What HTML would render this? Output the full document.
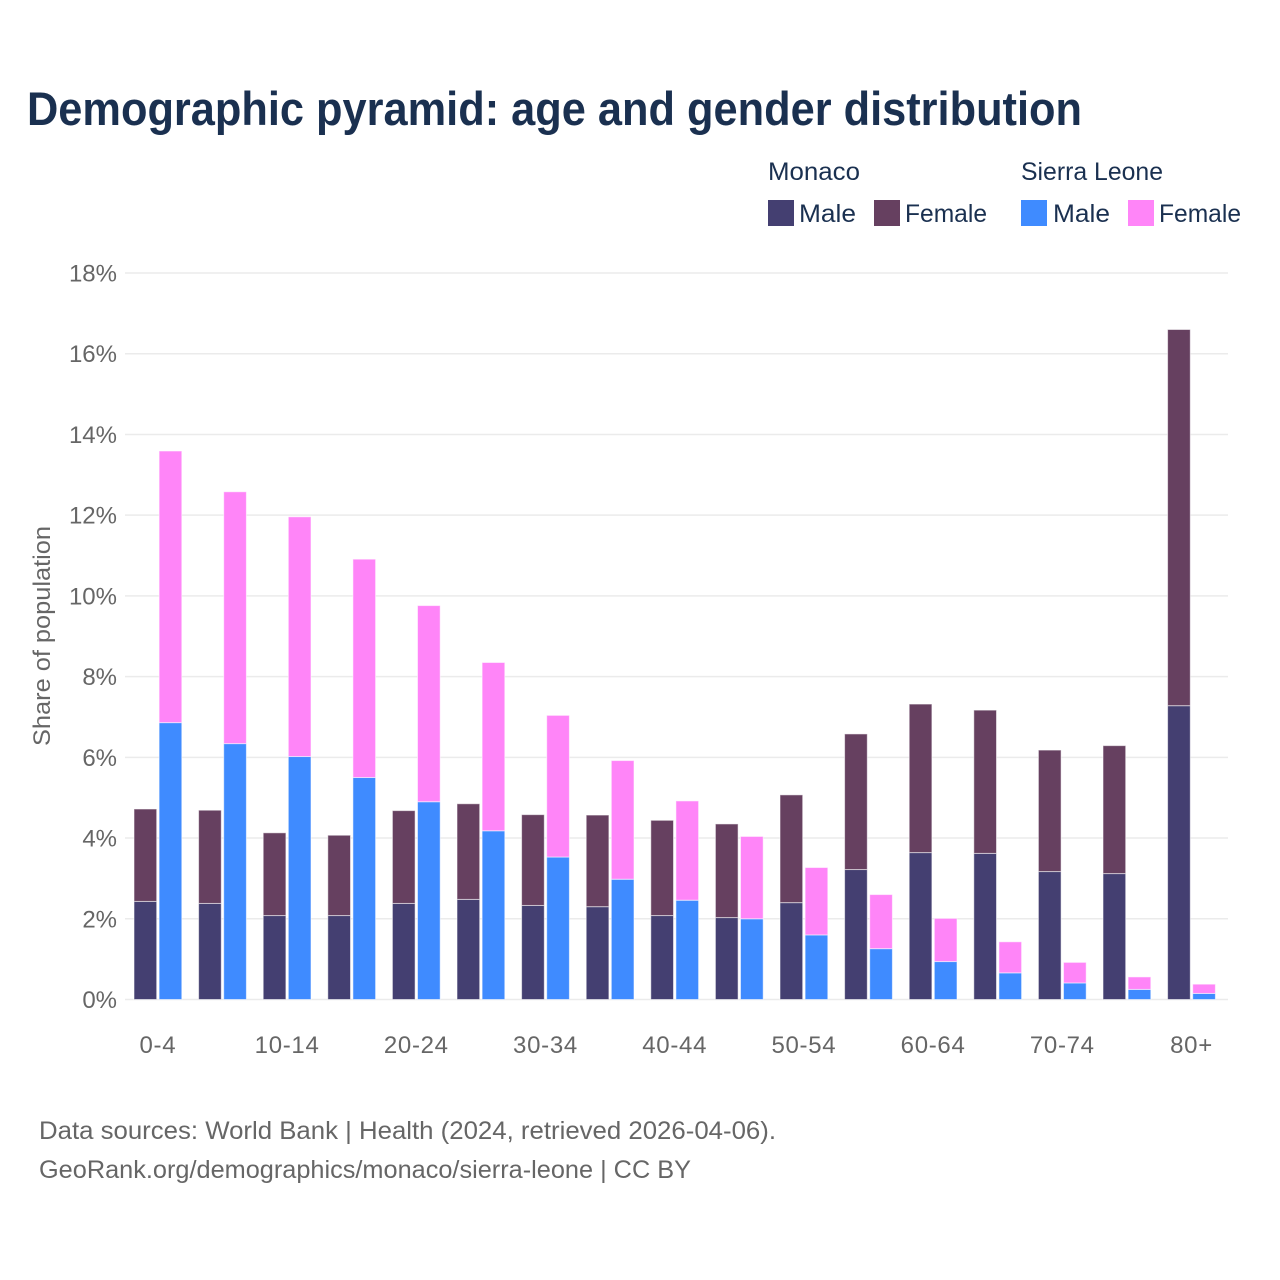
<!DOCTYPE html>
<html lang="en">
<head>
<meta charset="utf-8">
<title>Demographic pyramid: age and gender distribution</title>
<style>
html,body{margin:0;padding:0;background:#fff;width:1280px;height:1280px;overflow:hidden}
svg{display:block;font-family:"Liberation Sans",sans-serif}
</style>
</head>
<body>
<svg id="chart" width="1280" height="1280" viewBox="0 0 1280 1280" xmlns="http://www.w3.org/2000/svg">
  <text x="27" y="125" font-size="47" font-weight="700" fill="#1a3050" textLength="1055" lengthAdjust="spacingAndGlyphs">Demographic pyramid: age and gender distribution</text>

  <g font-size="25" fill="#1a3050">
    <text x="768" y="180" textLength="92" lengthAdjust="spacingAndGlyphs">Monaco</text>
    <text x="1021" y="180" textLength="142" lengthAdjust="spacingAndGlyphs">Sierra Leone</text>
    <rect x="768" y="200" width="26" height="26" fill="#443f71"/>
    <text x="799" y="222" textLength="57" lengthAdjust="spacingAndGlyphs">Male</text>
    <rect x="874" y="200" width="26" height="26" fill="#664060"/>
    <text x="905" y="222" textLength="82" lengthAdjust="spacingAndGlyphs">Female</text>
    <rect x="1021" y="200" width="26" height="26" fill="#3f8bff"/>
    <text x="1053" y="222" textLength="57" lengthAdjust="spacingAndGlyphs">Male</text>
    <rect x="1128" y="200" width="26" height="26" fill="#ff85f8"/>
    <text x="1159" y="222" textLength="82" lengthAdjust="spacingAndGlyphs">Female</text>
  </g>

  <g id="grid"></g>
  <g id="yticks" font-size="24" fill="#666" text-anchor="end"></g>
  <g id="bars"></g>
  <g id="xticks" font-size="24" fill="#666" text-anchor="middle" letter-spacing="0.7"></g>

  <text transform="translate(50 636) rotate(-90)" font-size="24" fill="#666" text-anchor="middle" textLength="220" lengthAdjust="spacingAndGlyphs">Share of population</text>

  <text x="39" y="1139" font-size="25" fill="#666" textLength="737" lengthAdjust="spacingAndGlyphs">Data sources: World Bank | Health (2024, retrieved 2026-04-06).</text>
  <text x="39" y="1178" font-size="25" fill="#666" textLength="652" lengthAdjust="spacingAndGlyphs">GeoRank.org/demographics/monaco/sierra-leone | CC BY</text>
</svg>
<script>
const categories = ['0-4','5-9','10-14','15-19','20-24','25-29','30-34','35-39','40-44','45-49','50-54','55-59','60-64','65-69','70-74','75-79','80+'];
const yTickValues = [0,2,4,6,8,10,12,14,16,18];
const monacoMale = [2.43,2.38,2.08,2.08,2.38,2.48,2.33,2.30,2.08,2.03,2.40,3.22,3.64,3.62,3.17,3.12,7.28];
const monacoFemale = [2.29,2.31,2.05,1.99,2.30,2.37,2.25,2.27,2.36,2.32,2.67,3.36,3.68,3.55,3.01,3.17,9.32];
const sierraMale = [6.86,6.34,6.02,5.50,4.90,4.18,3.53,2.98,2.46,2.00,1.60,1.26,0.94,0.66,0.41,0.25,0.15];
const sierraFemale = [6.73,6.24,5.94,5.41,4.86,4.17,3.51,2.94,2.46,2.04,1.67,1.34,1.07,0.77,0.51,0.31,0.23];

const SVG_NS = 'http://www.w3.org/2000/svg';
const yBase = 999.5, yTop = 273, yMax = 18;
const xFirst = 157.9, xStep = 64.6;
const barWidth = 22.7, barGap = 1.2;
function yScale(v){ return yBase - (v / yMax) * (yBase - yTop); }
function xCenter(i){ return xFirst + i * xStep; }
function make(tag, attrs){
  const el = document.createElementNS(SVG_NS, tag);
  for (const k in attrs) el.setAttribute(k, attrs[k]);
  return el;
}

const grid = document.getElementById('grid');
const yticks = document.getElementById('yticks');
yTickValues.forEach(function(v){
  const line = make('line', {x1:125, x2:1228, y1:yScale(v), y2:yScale(v), stroke:'#ebebeb', 'stroke-width':1.5});
  
  
  grid.appendChild(line);
  const t = make('text', {x:117, y:yScale(v) + 8.5});
  t.textContent = v + '%';
  
  
  yticks.appendChild(t);
});

const xticks = document.getElementById('xticks');
categories.forEach(function(c, i){
  if (i % 2 !== 0) return;
  const t = make('text', {x:xCenter(i), y:1053});
  t.textContent = c;
  
  
  xticks.appendChild(t);
});

const bars = document.getElementById('bars');
function drawSegment(x, v0, v1, fill, name){
  const y1 = yScale(v1), y0 = yScale(v0);
  const r = make('rect', {x:x, y:y1, width:barWidth, height:y0 - y1, fill:fill, stroke:'rgba(255,255,255,0.55)', 'stroke-width':1});
  
  
  bars.appendChild(r);
}
categories.forEach(function(c, i){
  const xm = xCenter(i) - barWidth - barGap;
  const xs = xCenter(i) + barGap;
  drawSegment(xm, 0, monacoMale[i], '#443f71', 'bar-monaco-male-' + c);
  drawSegment(xm, monacoMale[i], monacoMale[i] + monacoFemale[i], '#664060', 'bar-monaco-female-' + c);
  drawSegment(xs, 0, sierraMale[i], '#3f8bff', 'bar-sierra-leone-male-' + c);
  drawSegment(xs, sierraMale[i], sierraMale[i] + sierraFemale[i], '#ff85f8', 'bar-sierra-leone-female-' + c);
});
</script>
</body>
</html>
